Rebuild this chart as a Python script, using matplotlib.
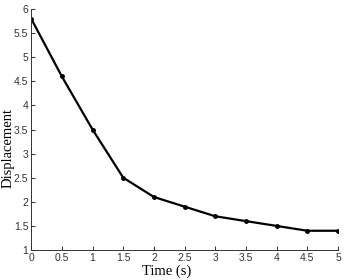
# Desplazamiento frente al tiempo (estilo MATLAB)

import matplotlib.pyplot as plt
import numpy as np

tiempo = [0, 0.5, 1, 1.5, 2, 2.5, 3, 3.5, 4, 4.5, 5]
desplazamiento = [5.8, 4.6, 3.5, 2.5, 2.1, 1.9, 1.7, 1.6, 1.5, 1.4, 1.4]

xticks = np.arange(0, 5.01, 0.5)
yticks = np.arange(1, 6.01, 0.5)

fig = plt.figure(figsize=(3.5, 2.8), dpi=100)
ax = fig.add_axes([0.089, 0.107, 0.877, 0.861])

ax.plot(tiempo, desplazamiento, color='black', linewidth=1.6,
        marker='o', markersize=2.5)

ax.set_xlim(0, 5)
ax.set_ylim(1, 6)
ax.set_xticks(xticks)
ax.set_yticks(yticks)
ax.set_xticklabels(['%g' % t for t in xticks], family='Liberation Sans', fontsize=7.5, color='#333333')
ax.set_yticklabels(['%g' % t for t in yticks], family='Liberation Sans', fontsize=7.5, color='#333333')
ax.tick_params(direction='in', length=3, width=0.7, pad=2, color='#333333')

ax.spines['top'].set_visible(False)
ax.spines['right'].set_visible(False)
ax.spines['left'].set_linewidth(0.7)
ax.spines['bottom'].set_linewidth(0.7)
ax.spines['left'].set_color('#333333')
ax.spines['bottom'].set_color('#333333')

ax.set_xlabel('Time (s)', family='Liberation Serif', fontsize=10.5)
ax.set_ylabel('Displacement', family='Liberation Serif', fontsize=10.5)
ax.xaxis.set_label_coords(0.44, -0.087)
ax.yaxis.set_label_coords(-0.075, 0.423)
ax.yaxis.label.set_va('center')
ax.xaxis.label.set_va('center')

fig.savefig('out.png', dpi=100)
